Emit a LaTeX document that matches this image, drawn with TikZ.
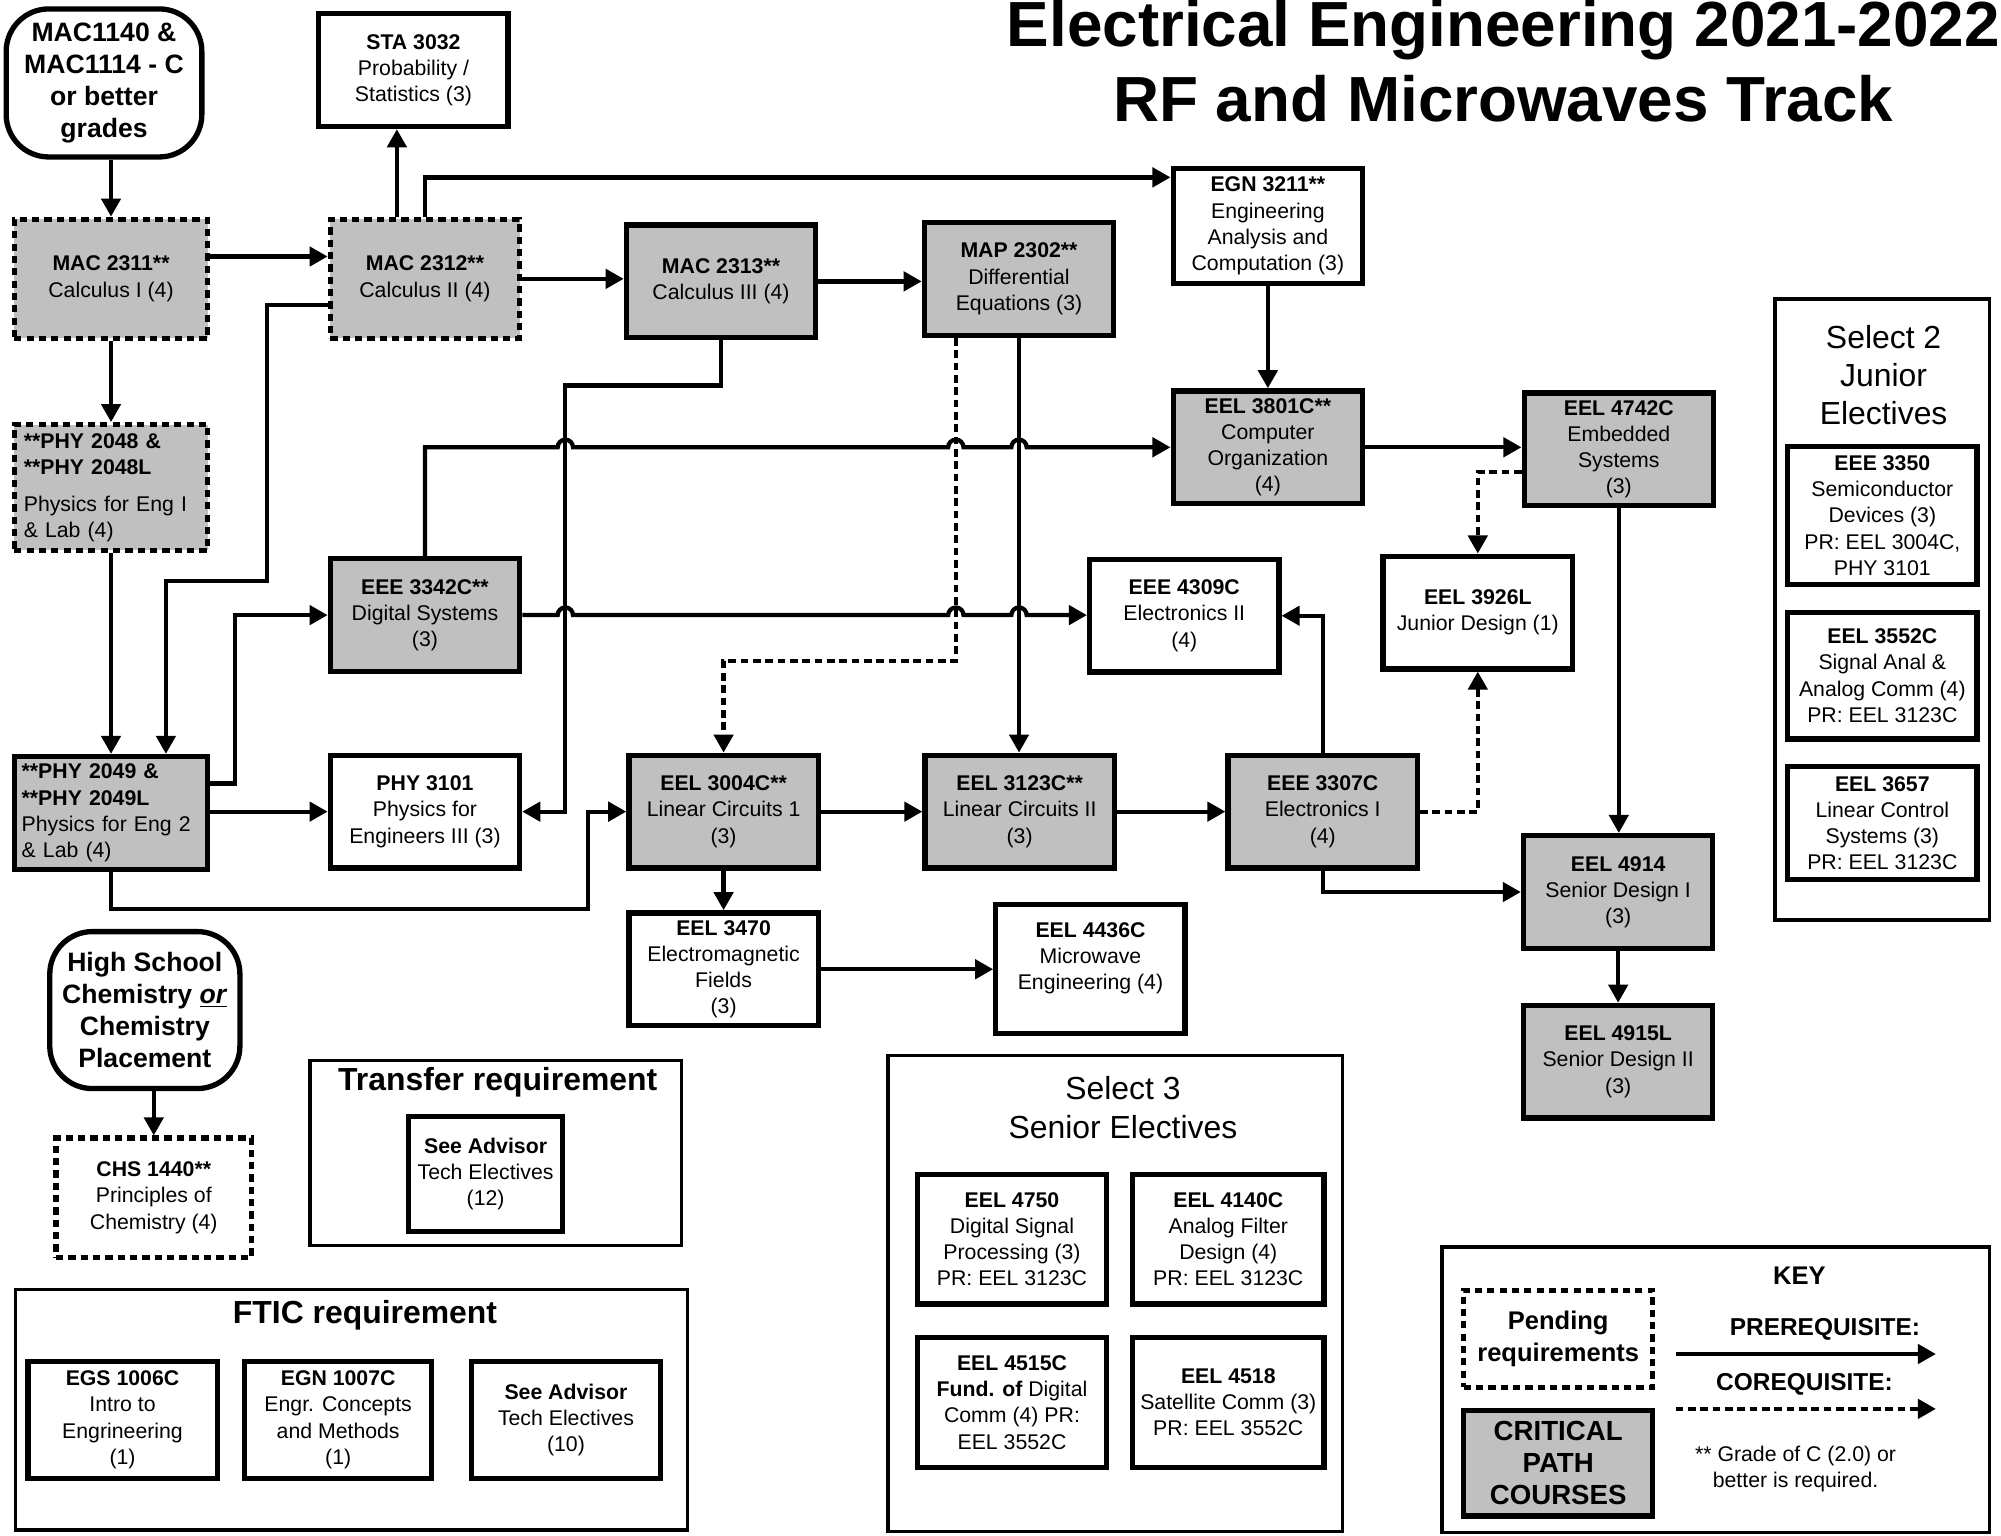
\documentclass[tikz,border=0pt]{standalone}
\usepackage{fontspec}
\setmainfont{Liberation Sans}
\usetikzlibrary{arrows.meta,calc}
\definecolor{critgray}{HTML}{C0C0C0}

\tikzset{
  box/.style={draw,line width=2.5pt,align=center,inner sep=1pt,font=\fontsize{10}{12.3}\selectfont},
  crs/.style={box,minimum width=89pt,minimum height=53pt},
  crit/.style={crs,fill=critgray},
  pend/.style={dash pattern=on 3.4pt off 2.4pt},
  bubble/.style={box,rounded corners=20pt,font=\fontsize{12.5}{15}\selectfont\bfseries},
  frame/.style={draw,line width=1.7pt,minimum width=#1},
  pre/.style={line width=2pt,-{Triangle[length=8.5pt,width=9pt]}},
  co/.style={pre,dash pattern=on 3.6pt off 2.2pt},
  hdr/.style={font=\fontsize{15}{18}\selectfont\bfseries},
}

\begin{document}
\begin{tikzpicture}[x=0.6pt,y=-0.6pt]
\useasboundingbox (0,0) rectangle (1568,1203);

\node[font=\fontsize{30}{35}\selectfont\bfseries,align=center] (title) at (1178,48)
  {Electrical Engineering 2021-2022\\RF and Microwaves Track};

% first year
\node[bubble,minimum width=92pt,minimum height=69.6pt] (n1140) at (81.5,65) {MAC1140 \&\\MAC1114 - C\\or better\\grades};
\node[crs] (sta3032) at (324,55) {\textbf{STA 3032}\\Probability /\\Statistics (3)};
\node[crit,pend,minimum width=91pt,minimum height=56pt] (m2311) at (87,218.5) {\textbf{MAC 2311**}\\Calculus I (4)};
\node[crit,pend,minimum height=56pt] (m2312) at (333,218.5) {\textbf{MAC 2312**}\\Calculus II (4)};
\node[crit] (m2313) at (565,220.5) {\textbf{MAC 2313**}\\Calculus III (4)};
\node[crit] (m2302) at (798.5,218.5) {\textbf{MAP 2302**}\\Differential\\Equations (3)};
\node[crs,minimum height=54pt] (g3211) at (993.5,177) {\textbf{EGN 3211**}\\Engineering\\Analysis and\\Computation (3)};
\node[crit] (e3801) at (993.5,350.5) {\textbf{EEL 3801C**}\\Computer\\Organization\\(4)};
\node[crit] (e4742) at (1268.5,352) {\textbf{EEL 4742C}\\Embedded\\Systems\\(3)};
\node[crit,pend,minimum width=91pt,minimum height=59pt,text width=82pt,align=left] (p2048) at (87,382)
  {\textbf{**PHY 2048 \&}\\\textbf{**PHY 2048L}\\[5pt]Physics for Eng I\\\& Lab (4)};
\node[crit] (e3342) at (333,482) {\textbf{EEE 3342C**}\\Digital Systems\\(3)};
\node[crs] (e4309) at (928,482.5) {\textbf{EEE 4309C}\\Electronics II\\(4)};
\node[crs] (e3926) at (1158,480) {\textbf{EEL 3926L}\\Junior Design (1)};
\node[crit,minimum width=91pt,text width=84pt,align=left] (p2049) at (87,637)
  {\textbf{**PHY 2049 \&}\\\textbf{**PHY 2049L}\\Physics for Eng 2\\\& Lab (4)};
\node[crs] (p3101) at (333,636) {\textbf{PHY 3101}\\Physics for\\Engineers III (3)};
\node[crit] (e3004) at (567,636) {\textbf{EEL 3004C**}\\Linear Circuits 1\\(3)};
\node[crit] (e3123) at (799,636) {\textbf{EEL 3123C**}\\Linear Circuits II\\(3)};
\node[crit] (e3307) at (1036.5,636) {\textbf{EEE 3307C}\\Electronics I\\(4)};
\node[crit] (e4914) at (1268,699) {\textbf{EEL 4914}\\Senior Design I\\(3)};
\node[crit] (e4915) at (1268,832) {\textbf{EEL 4915L}\\Senior Design II\\(3)};
\node[crs] (e3470) at (567,759.5) {\textbf{EEL 3470}\\Electromagnetic\\Fields\\(3)};
\node[crs,minimum height=60.6pt] (e4436) at (854.5,759.5) {\textbf{EEL 4436C}\\Microwave\\Engineering (4)\\\mbox{}};
\node[bubble,minimum width=89.4pt,minimum height=73.8pt] (hsch) at (113.5,791.5) {High School\\Chemistry \underline{\textit{or}}\\Chemistry\\Placement};
\node[crs,pend,minimum width=92pt,minimum height=56pt] (c1440) at (120.5,938.5) {\textbf{CHS 1440**}\\Principles of\\Chemistry (4)};

% junior electives
\node[frame=100.8pt,minimum height=292pt] (jrframe) at (1475,477.5) {};
\node[font=\fontsize{15}{18}\selectfont,align=center] (jrtitle) at (1476,294) {Select 2\\Junior\\Electives};
\node[crs,minimum height=65pt] (e3350) at (1475,404) {\textbf{EEE 3350}\\Semiconductor\\Devices (3)\\PR: EEL 3004C,\\PHY 3101};
\node[crs,minimum height=59.4pt] (e3552) at (1475,529.5) {\textbf{EEL 3552C}\\Signal Anal \&\\Analog Comm (4)\\PR: EEL 3123C};
\node[crs] (e3657) at (1475,645) {\textbf{EEL 3657}\\Linear Control\\Systems (3)\\PR: EEL 3123C};

% transfer / FTIC
\node[frame=174.6pt,minimum height=87pt] (trframe) at (388.5,903.5) {};
\node[hdr] (trtitle) at (390,848) {Transfer requirement};
\node[crs,minimum width=72.6pt,minimum height=54pt] (sadv12) at (380.5,920) {\textbf{See Advisor}\\Tech Electives\\(12)};
\node[frame=316pt,minimum height=113pt] (ftframe) at (275.5,1104.5) {};
\node[hdr] (fttitle) at (286,1031) {FTIC requirement};
\node[crs,minimum height=55pt] (egs1006) at (96,1112.5) {\textbf{EGS 1006C}\\Intro to\\Engrineering\\(1)};
\node[crs,minimum width=88pt,minimum height=55pt] (egn1007) at (265,1112.5) {\textbf{EGN 1007C}\\Engr. Concepts\\and Methods\\(1)};
\node[crs,minimum height=55pt] (sadv10) at (443.5,1112.5) {\textbf{See Advisor}\\Tech Electives\\(10)};

% senior electives
\node[frame=213.6pt,minimum height=223.8pt] (srframe) at (874,1013.5) {};
\node[font=\fontsize{15}{18}\selectfont,align=center] (srtitle) at (880,868) {Select 3\\Senior Electives};
\node[crs,minimum height=61pt] (e4750) at (793,971) {\textbf{EEL 4750}\\Digital Signal\\Processing (3)\\PR: EEL 3123C};
\node[crs,minimum width=90pt,minimum height=61pt] (e4140) at (962.5,971) {\textbf{EEL 4140C}\\Analog Filter\\Design (4)\\PR: EEL 3123C};
\node[crs,minimum height=61pt] (e4515) at (793,1099) {\textbf{EEL 4515C}\\\textbf{Fund. of} Digital\\Comm (4) PR:\\EEL 3552C};
\node[crs,minimum width=90pt,minimum height=61pt] (e4518) at (962.5,1099) {\textbf{EEL 4518}\\Satellite Comm (3)\\PR: EEL 3552C};

% key
\node[frame=257.4pt,minimum height=134.4pt] (keyframe) at (1344.5,1089) {};
\node[font=\fontsize{12}{14}\selectfont\bfseries] (keytitle) at (1410,1000) {KEY};
\node[box,pend,minimum width=88.8pt,minimum height=45.6pt,font=\fontsize{12}{15}\selectfont\bfseries] (kpend) at (1221,1049) {Pending\\requirements};
\node[box,fill=critgray,minimum width=88.8pt,minimum height=49.8pt,font=\fontsize{13}{15}\selectfont\bfseries] (kcrit) at (1221,1146.5) {CRITICAL\\PATH\\COURSES};
\node[font=\fontsize{11.5}{14}\selectfont\bfseries] (kpre) at (1430,1042) {PREREQUISITE:};
\node[font=\fontsize{11.5}{14}\selectfont\bfseries] (kco) at (1414,1085) {COREQUISITE:};
\node[font=\fontsize{10}{12.3}\selectfont,align=center] (knote) at (1407,1151) {** Grade of C (2.0) or\\better is required.};
\coordinate (kpa) at (1313,1061);
\coordinate (kpb) at (1517,1061);
\coordinate (kca) at (1313,1104);
\coordinate (kcb) at (1517,1104);
\draw[pre] (kpa) -- (kpb);
\draw[co] (kca) -- (kcb);

% connectors
\coordinate (vA) at (443,302);
\coordinate (vB) at ($(m2302.south)+(-49.5,0)$);
\coordinate (vC) at (m2302.south);

\draw[pre] (n1140.south -| m2311.north) -- (m2311.north);
\draw[pre] (m2311.east |- 0,201) -- (m2312.west |- 0,201);
\draw[pre] (m2311.south) -- (p2048.north);
\draw[pre] (311,0 |- m2312.north) -- (311,0 |- sta3032.south);
\draw[pre] (m2312.north) |- (g3211.west |- 0,139);
\draw[pre] (m2312.east) -- (m2313.west |- m2312.east);
\draw[pre] (m2313.east) -- (m2302.west |- m2313.east);
\draw[pre] (m2313.south) |- (vA) |- (p3101.east);
\draw[pre] (m2312.west |- 0,239) -| (209,455) -| (130,0 |- p2049.north);
\draw[pre] (p2048.south) -- (p2049.north);
\draw[pre] (p2049.east |- 0,614) -| (184,0 |- e3342.west) -- (e3342.west);
\draw[pre] (p2049.east |- p3101.west) -- (p3101.west);
\draw[pre] (p2049.south) |- (461,712) |- (e3004.west);

\draw[pre] (e3342.north) |- ($(vA |- e3801.west)+(-6,0)$)
  arc[start angle=180,end angle=0,radius=3.6pt] -- ($(vB |- e3801.west)+(-6,0)$)
  arc[start angle=180,end angle=0,radius=3.6pt] -- ($(vC |- e3801.west)+(-6,0)$)
  arc[start angle=180,end angle=0,radius=3.6pt] -- (e3801.west);
\draw[pre] (e3342.east) -- ($(vA |- e3342.east)+(-6,0)$)
  arc[start angle=180,end angle=0,radius=3.6pt] -- ($(vB |- e3342.east)+(-6,0)$)
  arc[start angle=180,end angle=0,radius=3.6pt] -- ($(vC |- e3342.east)+(-6,0)$)
  arc[start angle=180,end angle=0,radius=3.6pt] -- (e4309.west |- e3342.east);

\draw[co] (vB |- m2302.south) |- ($(e3004.north)+(0,-72)$) -- (e3004.north);
\draw[pre] (vC) -- (vC |- e3123.north);
\draw[pre] (g3211.south) -- (e3801.north);
\draw[pre] (e3801.east) -- (e4742.west |- e3801.east);
\draw[co] (e4742.west |- 0,370) -| (e3926.north);
\draw[pre] (e4742.south) -- (e4742.south |- e4914.north);
\draw[pre] (e3307.north) |- (e4309.east);
\draw[co] (e3307.east) -| (e3926.south);
\draw[pre] (e3307.south) |- (e4914.west);
\draw[pre] (e4914.south) -- (e4915.north);
\draw[pre] (e3004.east) -- (e3123.west);
\draw[pre] (e3123.east) -- (e3307.west);
\draw[pre] (e3004.south) -- (e3470.north);
\draw[pre] (e3470.east) -- (e4436.west);
\draw[pre] (hsch.south -| c1440.north) -- (c1440.north);

\end{tikzpicture}
\end{document}
